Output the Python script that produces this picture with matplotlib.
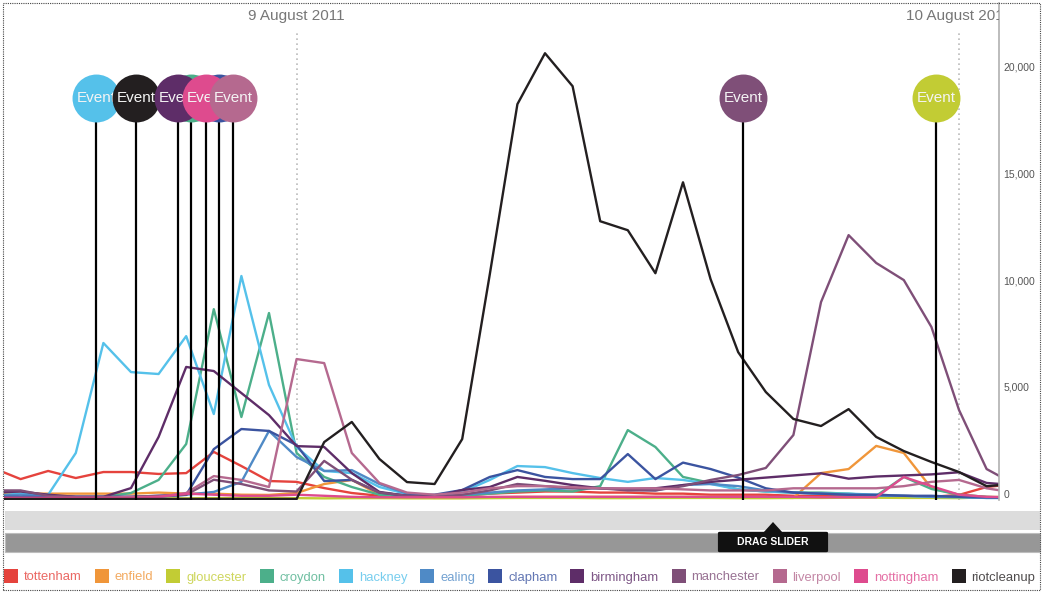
import matplotlib
matplotlib.use('Agg')
import matplotlib.pyplot as plt
import matplotlib.transforms as mtransforms
from matplotlib.patches import Rectangle, FancyBboxPatch, Polygon

plt.rcParams['font.family'] = ['Liberation Sans', 'DejaVu Sans']

# ---------------- data ----------------
# hours since midnight 8 August 2011 (one point per hour)
hours = list(range(13, 51))

series_names = ['tottenham', 'enfield', 'gloucester', 'croydon', 'hackney', 'ealing',
                'clapham', 'birmingham', 'manchester', 'liverpool', 'nottingham', 'riotcleanup']
series_colors = ['#e5433d', '#f0963a', '#c2cc34', '#4caf8a', '#55c1ea', '#4f8ac6',
                 '#3b54a0', '#5e2d68', '#7f4f78', '#b5698f', '#de4b8e', '#231f20']

tottenham = [1450, 930, 1310, 980, 1260, 1260, 1170, 1210, 2200, 1540, 840, 800, 510, 280,
             150, 100, 100, 150, 250, 300, 350, 350, 300, 300, 250, 250, 200, 200, 200, 150,
             150, 150, 150, 150, 100, 190, 560, 700]
enfield = [300, 250, 250, 250, 250, 250, 300, 250, 250, 200, 190, 280, 700, 890,
           200, 80, 50, 50, 80, 100, 100, 100, 100, 100, 100, 100, 100, 80, 60, 50,
           1210, 1400, 2480, 2150, 510, 200, 100, 80]
gloucester = [30, 30, 30, 30, 30, 30, 30, 30, 40, 40, 40, 40, 30, 40,
              40, 30, 30, 30, 40, 50, 50, 50, 40, 40, 50, 50, 50, 40, 40, 50,
              50, 60, 60, 50, 50, 40, 80, 100]
croydon = [50, 50, 50, 50, 100, 280, 890, 2570, 8870, 3830, 8690, 2150, 1030, 560,
           200, 100, 100, 150, 250, 350, 400, 350, 600, 3220, 2430, 1030, 750, 450, 350, 300,
           300, 250, 150, 1030, 470, 200, 100, 50]
hackney = [150, 250, 200, 2150, 7290, 5930, 5840, 7610, 3970, 10420, 5330, 2430, 1310, 1210,
           560, 230, 140, 330, 890, 1540, 1490, 1210, 980, 800, 980, 890, 700, 450, 350, 300,
           250, 250, 200, 150, 100, 80, 50, 50]
ealing = [150, 200, 150, 100, 100, 100, 100, 200, 330, 800, 3180, 1960, 1310, 1350,
          700, 250, 150, 200, 300, 400, 450, 500, 500, 450, 400, 650, 700, 600, 400, 300,
          250, 200, 150, 150, 100, 100, 50, 50]
clapham = [100, 100, 100, 100, 100, 100, 150, 190, 2330, 3270, 3180, 2520, 840, 890,
           300, 150, 200, 420, 1030, 1350, 1030, 930, 930, 2100, 930, 1700, 1400, 1000, 500, 300,
           250, 200, 200, 150, 150, 100, 80, 50]
birmingham = [300, 350, 200, 100, 100, 510, 2900, 6170, 5980, 4950, 3920, 2470, 2430, 1210,
              330, 150, 100, 420, 560, 1030, 850, 650, 500, 450, 500, 650, 800, 900, 1000, 1100,
              1200, 950, 1050, 1100, 1150, 1250, 750, 650]
manchester = [400, 400, 150, 100, 100, 100, 150, 200, 900, 700, 400, 350, 1780, 900,
              300, 150, 100, 200, 400, 700, 600, 500, 500, 400, 400, 600, 890, 1120, 1450, 2990,
              9200, 12330, 11030, 10230, 8040, 4160, 1400, 700]
liverpool = [50, 50, 50, 50, 50, 100, 100, 280, 1070, 890, 560, 6540, 6350, 2150,
             750, 300, 200, 300, 500, 600, 600, 550, 500, 500, 500, 450, 400, 400, 400, 500,
             500, 500, 500, 600, 800, 890, 500, 300]
nottingham = [50, 50, 50, 50, 50, 50, 100, 250, 200, 150, 150, 200, 150, 100,
              80, 80, 80, 80, 100, 100, 100, 100, 100, 100, 100, 100, 100, 100, 100, 100,
              80, 80, 80, 1030, 600, 200, 100, 80]
riotcleanup = [0, 0, 0, 0, 0, 0, 0, 0, 0, 0, 0, 0, 2660, 3600,
               1870, 790, 700, 2800, 10500, 18450, 20830, 19290, 12980, 12560, 10550, 14800, 10270, 6860, 5000, 3740,
               3410, 4200, 2900, 2240, 1730, 1260, 600, 700]

series_values = [tottenham, enfield, gloucester, croydon, hackney, ealing,
                 clapham, birmingham, manchester, liverpool, nottingham, riotcleanup]

# events (time in hours since midnight 8 Aug, series the event belongs to), in drawing order
event_hours = [16.73, 18.18, 20.17, 21.19, 19.70, 20.72, 21.70, 40.17, 47.17]
event_series = ['hackney', 'riotcleanup', 'croydon', 'clapham', 'birmingham',
                'nottingham', 'liverpool', 'manchester', 'gloucester']
event_label = 'Event'

date_hours = [24, 48]
date_labels = ['9 August 2011', '10 August 2011']

yticks = [0, 5000, 10000, 15000, 20000]
ytick_labels = ['0', '5,000', '10,000', '15,000', '20,000']

# ---------------- layout ----------------
W, H = 1042, 592
fig = plt.figure(figsize=(W / 100, H / 100), dpi=100)


def fx(px):
    return px / W


def fy(py):
    return 1 - py / H


ax_top, ax_bot = 3, 500
ax = fig.add_axes([fx(4), fy(ax_bot), fx(999) - fx(4), fy(ax_top) - fy(ax_bot)])


def afrac(py):
    return (ax_bot - py) / (ax_bot - ax_top)


ax.set_xlim(13.399, 49.449)
ax.set_ylim(-47, 23178)

for s in ['top', 'left', 'bottom']:
    ax.spines[s].set_visible(False)
ax.spines['right'].set_color('#b0b0b0')
ax.spines['right'].set_linewidth(1.2)
ax.set_xticks([])
ax.yaxis.tick_right()
ax.set_yticks(yticks)
ax.set_yticklabels(ytick_labels)
ax.tick_params(axis='y', length=0, pad=3, labelsize=7.5, labelcolor='#555555')
offset = mtransforms.ScaledTranslation(0, 0.05, fig.dpi_scale_trans)
for lab in ax.get_yticklabels():
    lab.set_transform(lab.get_transform() + offset)

trans = mtransforms.blended_transform_factory(ax.transData, ax.transAxes)

# date separators
for h, lbl in zip(date_hours, date_labels):
    ax.axvline(h, ymin=0, ymax=afrac(30), color='#bbbbbb', lw=1.2,
               linestyle=(0, (1, 2)), zorder=1)
    ax.text(h, afrac(16), lbl, transform=trans, ha='center', va='center',
            fontsize=11, color='#777777', clip_on=True)

# series
for name, vals, c in zip(series_names, series_values, series_colors):
    ax.plot(hours, vals, color=c, lw=1.7, solid_joinstyle='round', zorder=2)

# events
color_of = dict(zip(series_names, series_colors))
for h in event_hours:
    ax.plot([h, h], [0, afrac(122)], transform=trans, color='black', lw=1.6,
            zorder=3, solid_capstyle='butt')
for i, (h, sname) in enumerate(zip(event_hours, event_series)):
    z = 5 + i
    ax.plot([h], [afrac(98)], 'o', transform=trans, ms=34.5, color=color_of[sname],
            mec='none', zorder=z, clip_on=False)
    ax.text(h, afrac(98), event_label, transform=trans, ha='center', va='center',
            color='#f4f4f4', fontsize=11, zorder=z + 0.5)

# slider
fig.add_artist(Rectangle((fx(5), fy(530)), fx(1040) - fx(5), 19 / H,
                         transform=fig.transFigure, facecolor='#dcdcdc', edgecolor='none'))
fig.add_artist(Rectangle((fx(5), fy(552)), fx(1040) - fx(5), 19 / H,
                         transform=fig.transFigure, facecolor='#979797', edgecolor='#bdbdbd', lw=0.8))
fig.add_artist(FancyBboxPatch((fx(720), fy(551)), fx(826) - fx(720), 18 / H,
                              boxstyle='round,pad=0.002', transform=fig.transFigure,
                              facecolor='#111111', edgecolor='none'))
fig.add_artist(Polygon([[fx(763), fy(533)], [fx(783), fy(533)], [fx(773), fy(522)]],
                       closed=True, transform=fig.transFigure, facecolor='#111111', edgecolor='none'))
fig.text(fx(773), fy(542), 'DRAG SLIDER', ha='center', va='center', color='white',
         fontsize=7.5, fontweight='bold')

# legend
renderer = fig.canvas.get_renderer()
x = 4
for name, c in zip(series_names, series_colors):
    fig.add_artist(Rectangle((fx(x), fy(583)), fx(14), 14 / H, transform=fig.transFigure,
                             facecolor=c, edgecolor='none'))
    t = fig.text(fx(x + 20), fy(580.5), name, ha='left', va='baseline', color=c,
                 alpha=0.8, fontsize=9.4)
    w = t.get_window_extent(renderer).width
    x = x + 20 + w + 13

# outer dotted frame
fig.add_artist(Rectangle((fx(3), fy(590)), fx(1040) - fx(3), 587 / H, transform=fig.transFigure,
                         fill=False, edgecolor='#444444', lw=0.8, linestyle=(0, (1, 1))))

fig.savefig('out.png', dpi=100)
